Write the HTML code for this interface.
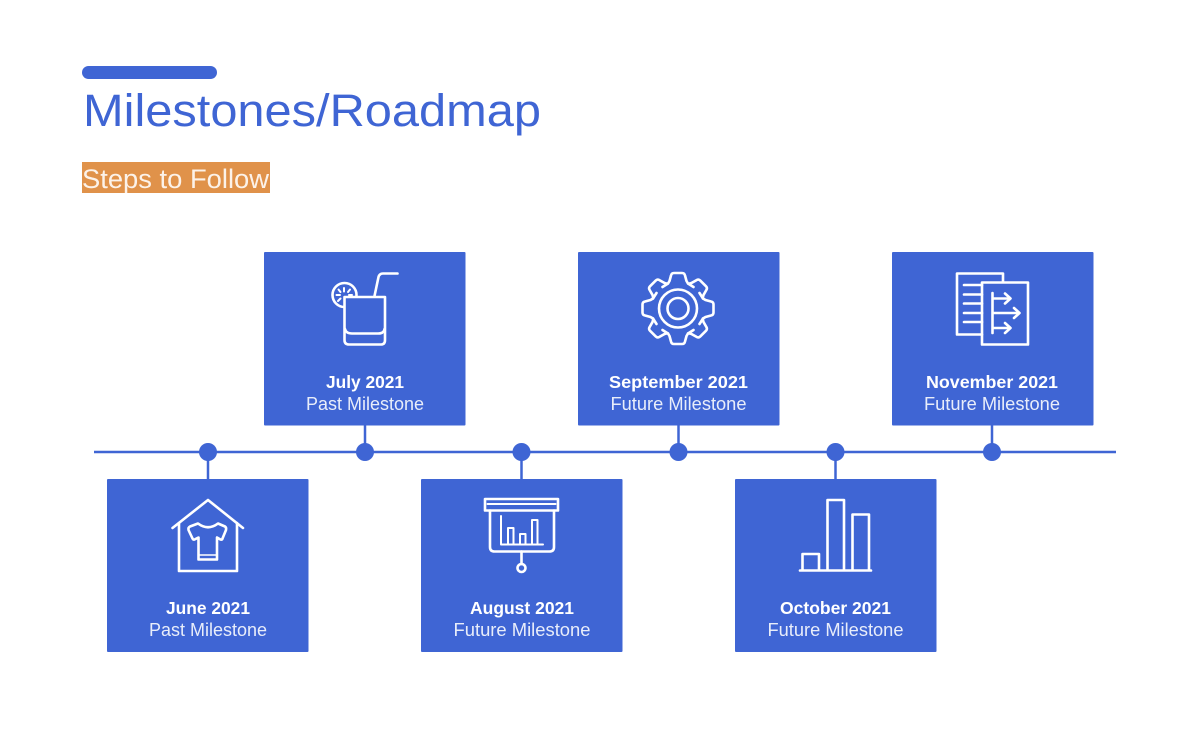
<!DOCTYPE html>
<html lang="en">
<head>
<meta charset="utf-8">
<title>Milestones/Roadmap</title>
<style>
html,body{margin:0;padding:0;background:#fff}
svg{display:block}
text{font-family:"Liberation Sans",sans-serif}
.t{font-size:17.500px;font-weight:bold;fill:#fff;text-anchor:middle}
.s{font-size:18px;fill:#e8edfa;text-anchor:middle}
.i{fill:none;stroke:#fff;stroke-width:2.600;stroke-linejoin:round;stroke-linecap:round}
</style>
</head>
<body>
<svg width="1200" height="750" viewBox="0 0 1200 750" xmlns="http://www.w3.org/2000/svg">
<rect width="1200" height="750" fill="#fff"/>
<rect x="82" y="66" width="135" height="13" rx="6.500" fill="#3f65d4"/>
<text x="83" y="126" font-size="45" fill="#3f65d4" textLength="458" lengthAdjust="spacingAndGlyphs">Milestones/Roadmap</text>
<rect x="82" y="162" width="188" height="31" fill="#e0924a"/>
<text x="82" y="188" font-size="27" fill="#fff" fill-opacity="0.880" textLength="187" lengthAdjust="spacingAndGlyphs">Steps to Follow</text>

<g stroke="#3f65d4" stroke-width="2.500">
<line x1="94" y1="452" x2="1116" y2="452"/>
<line x1="208" y1="452" x2="208" y2="480"/>
<line x1="365" y1="425" x2="365" y2="452"/>
<line x1="521.500" y1="452" x2="521.500" y2="480"/>
<line x1="678.500" y1="425" x2="678.500" y2="452"/>
<line x1="835.500" y1="452" x2="835.500" y2="480"/>
<line x1="992" y1="425" x2="992" y2="452"/>
</g>
<g fill="#3f65d4">
<circle cx="208" cy="452" r="9"/>
<circle cx="365" cy="452" r="9"/>
<circle cx="521.500" cy="452" r="9"/>
<circle cx="678.500" cy="452" r="9"/>
<circle cx="835.500" cy="452" r="9"/>
<circle cx="992" cy="452" r="9"/>
<rect x="264" y="252" width="201.500" height="173.500" rx="1"/>
<rect x="578" y="252" width="201.500" height="173.500" rx="1"/>
<rect x="892" y="252" width="201.500" height="173.500" rx="1"/>
<rect x="107" y="479" width="201.500" height="173" rx="1"/>
<rect x="421" y="479" width="201.500" height="173" rx="1"/>
<rect x="735" y="479" width="201.500" height="173" rx="1"/>
</g>

<!-- July: drink -->
<g class="i">
<circle cx="344.500" cy="295" r="12"/>
<g stroke-width="2">
<path d="M344 288V291.500M338.500 289.500L340.500 292M336.500 295H340M338 301L340.500 298.500M350 289.500L348 292M352 295H349"/>
</g>
<path fill="#3f65d4" d="M344.500 297H385V340Q385 344.500 381 344.500H349Q344.500 344.500 344.500 340Z"/>
<path d="M345 329Q346 333.500 352 333.500H378Q384 333.500 384.500 329"/>
<path d="M374.500 296L378.500 277Q379.500 273.500 383 273.500H397.500"/>
</g>

<!-- September: gear -->
<g class="i" transform="translate(678 308.500)">
<circle r="19"/>
<circle r="10.500"/>
<path d="M-10 -25L-8.500 -27.500L-7 -33Q-6.500 -35.500 -4 -35.500H4Q6.500 -35.500 7 -33L8.500 -27.500L10 -25"/>
<path transform="rotate(45)" d="M-10 -25L-8.500 -27.500L-7 -33Q-6.500 -35.500 -4 -35.500H4Q6.500 -35.500 7 -33L8.500 -27.500L10 -25"/>
<path transform="rotate(90)" d="M-10 -25L-8.500 -27.500L-7 -33Q-6.500 -35.500 -4 -35.500H4Q6.500 -35.500 7 -33L8.500 -27.500L10 -25"/>
<path transform="rotate(135)" d="M-10 -25L-8.500 -27.500L-7 -33Q-6.500 -35.500 -4 -35.500H4Q6.500 -35.500 7 -33L8.500 -27.500L10 -25"/>
<path transform="rotate(180)" d="M-10 -25L-8.500 -27.500L-7 -33Q-6.500 -35.500 -4 -35.500H4Q6.500 -35.500 7 -33L8.500 -27.500L10 -25"/>
<path transform="rotate(225)" d="M-10 -25L-8.500 -27.500L-7 -33Q-6.500 -35.500 -4 -35.500H4Q6.500 -35.500 7 -33L8.500 -27.500L10 -25"/>
<path transform="rotate(270)" d="M-10 -25L-8.500 -27.500L-7 -33Q-6.500 -35.500 -4 -35.500H4Q6.500 -35.500 7 -33L8.500 -27.500L10 -25"/>
<path transform="rotate(315)" d="M-10 -25L-8.500 -27.500L-7 -33Q-6.500 -35.500 -4 -35.500H4Q6.500 -35.500 7 -33L8.500 -27.500L10 -25"/>
<path d="M-10 -25L-15.500 -21.500M10 -25L15.500 -21.500M25 -10L21.500 -15.500M25 10L21.500 15.500M10 25L15.500 21.500M-10 25L-15.500 21.500M-25 10L-21.500 15.500M-25 -10L-21.500 -15.500"/>
</g>

<!-- November: documents -->
<g class="i" stroke-linecap="butt">
<path d="M982 334.500H957V273.500H1003V282"/>
<rect x="982" y="282.500" width="46" height="62"/>
<path d="M964 285H982M964 294.500H982M964 303.500H982M964 313H982M964 322H982"/>
<path d="M992.500 293V333M992.500 298.500H1010M992.500 313H1019M992.500 328H1010"/>
<path d="M1005 293.500L1010.500 298.500L1005 303.500M1014 308L1019.500 313L1014 318M1005 323L1010.500 328L1005 333"/>
</g>

<!-- June: house and shirt -->
<g class="i">
<path d="M172.500 528L208 500L243 528"/>
<path d="M179 523V571H237V523"/>
<path d="M198 523.500Q208 531 218 523.500L225 526.500Q226.500 527.500 226 530L222.500 538.500Q222 540.500 219.500 539L217 537.500V559.500H198.500V537.500L195.500 539Q193.500 540.500 192.500 538.500L188.500 530Q188 527.500 190 526.500Z"/>
<path d="M198.500 555H217" stroke-width="1.500"/>
</g>

<!-- August: presentation -->
<g class="i">
<rect x="485" y="499" width="73" height="11.500"/>
<path d="M487.500 504H555.500" stroke-width="2"/>
<path d="M490 510.500V547Q490 551.500 494.500 551.500H549.500Q554 551.500 554 547V510.500"/>
<path d="M521.500 551.500V564"/>
<circle cx="521.500" cy="568" r="4"/>
<path stroke-width="2" d="M501 516V544.500H543M508 544V528H513.500V544M520 544V534H525.500V544M532 544V520H537.500V544"/>
</g>

<!-- October: bars -->
<g class="i">
<path d="M800 570.500H871"/>
<path d="M802.500 570V554H819V570M827.500 570V500H844V570M852.500 570V514.500H869V570"/>
</g>

<text class="t" x="208" y="614" textLength="84" lengthAdjust="spacingAndGlyphs">June 2021</text>
<text class="s" x="208" y="636" textLength="118" lengthAdjust="spacingAndGlyphs">Past Milestone</text>
<text class="t" x="365" y="388" textLength="78" lengthAdjust="spacingAndGlyphs">July 2021</text>
<text class="s" x="365" y="410" textLength="118" lengthAdjust="spacingAndGlyphs">Past Milestone</text>
<text class="t" x="522" y="614" textLength="104" lengthAdjust="spacingAndGlyphs">August 2021</text>
<text class="s" x="522" y="636" textLength="137" lengthAdjust="spacingAndGlyphs">Future Milestone</text>
<text class="t" x="678.500" y="388" textLength="139" lengthAdjust="spacingAndGlyphs">September 2021</text>
<text class="s" x="678.500" y="410" textLength="136" lengthAdjust="spacingAndGlyphs">Future Milestone</text>
<text class="t" x="835.500" y="614" textLength="111" lengthAdjust="spacingAndGlyphs">October 2021</text>
<text class="s" x="835.500" y="636" textLength="136" lengthAdjust="spacingAndGlyphs">Future Milestone</text>
<text class="t" x="992" y="388" textLength="132" lengthAdjust="spacingAndGlyphs">November 2021</text>
<text class="s" x="992" y="410" textLength="136" lengthAdjust="spacingAndGlyphs">Future Milestone</text>
</svg>
</body>
</html>
